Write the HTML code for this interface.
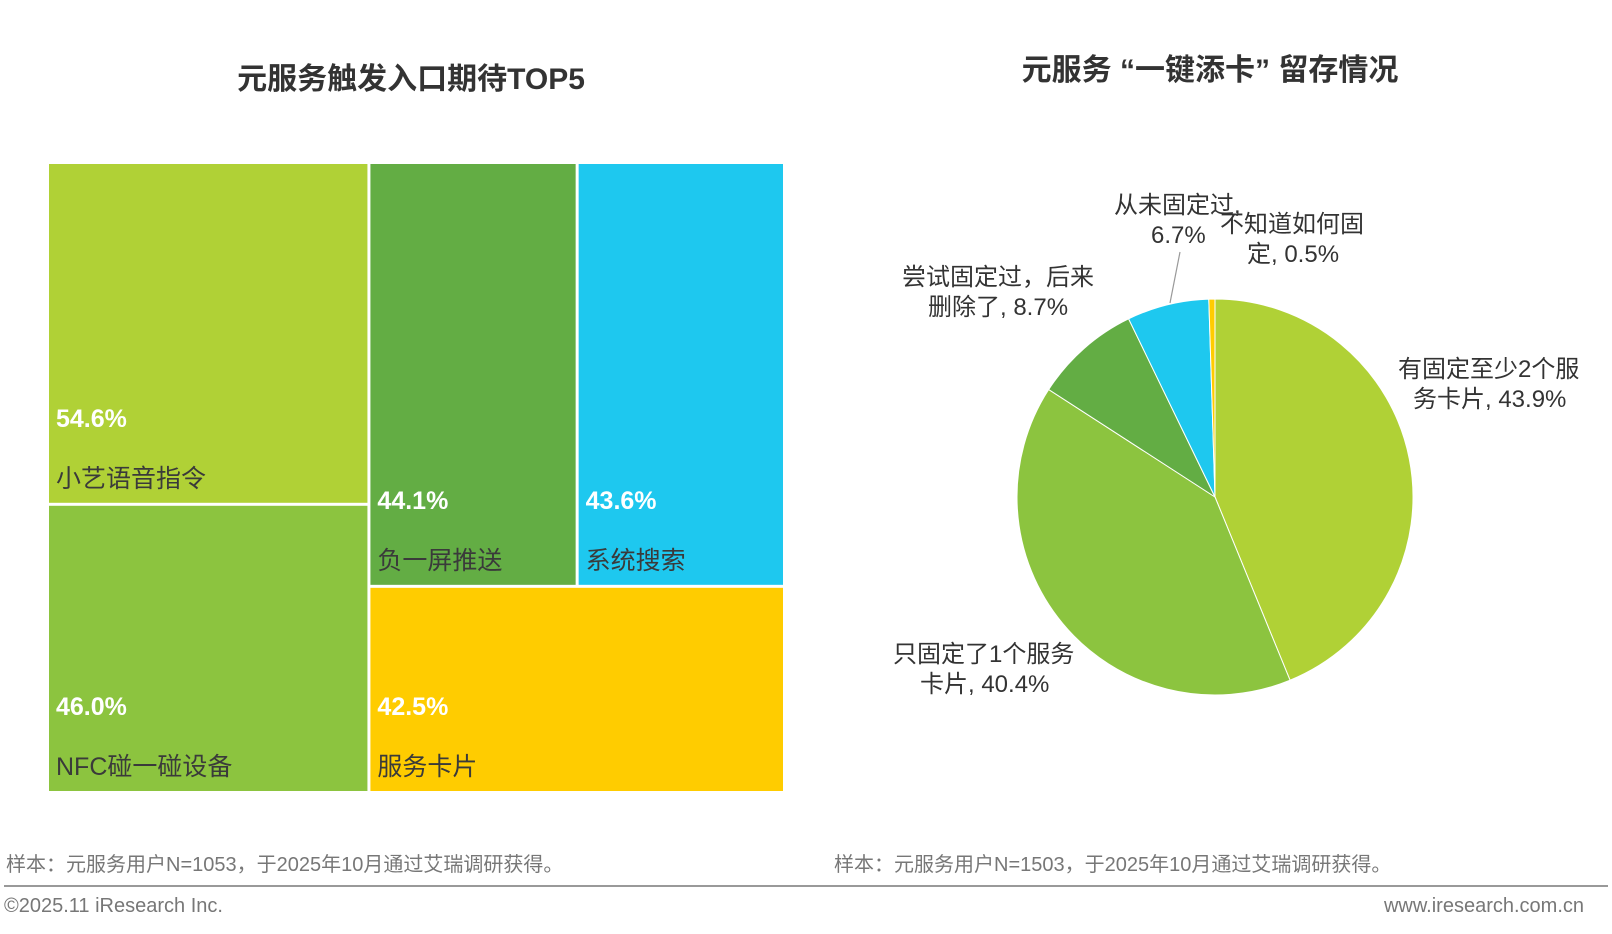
<!DOCTYPE html>
<html><head><meta charset="utf-8"><style>
body{margin:0;width:1612px;height:934px;background:#fff;overflow:hidden;font-family:"Liberation Sans","Noto Sans CJK SC",sans-serif}
svg{position:absolute;left:0;top:0}
</style></head><body>
<svg width="1612" height="934">
<text x="411" y="89" text-anchor="middle" font-size="30" font-weight="bold" fill="#333">元服务触发入口期待TOP5</text>
<text x="1210" y="80" text-anchor="middle" font-size="30" font-weight="bold" fill="#333">元服务 “一键添卡” 留存情况</text>
<g id="tm"></g>
<g id="pie"></g>
<g font-size="24" fill="#333">
<text x="1114" y="213">从未固定过,</text>
<text x="1151" y="243">6.7%</text>
<text x="1220" y="232">不知道如何固</text>
<text x="1247" y="262">定, 0.5%</text>
<text x="902" y="285">尝试固定过，后来</text>
<text x="928" y="315">删除了, 8.7%</text>
<text x="1398" y="377">有固定至少2个服</text>
<text x="1413" y="407">务卡片, 43.9%</text>
<text x="893" y="662">只固定了1个服务</text>
<text x="920" y="692">卡片, 40.4%</text>
</g>
<line x1="1180" y1="252" x2="1170" y2="303" stroke="#999" stroke-width="1.2"/>
<text x="6" y="871" font-size="20" fill="#777">样本：元服务用户N=1053，于2025年10月通过艾瑞调研获得。</text>
<text x="834" y="871" font-size="20" fill="#777">样本：元服务用户N=1503，于2025年10月通过艾瑞调研获得。</text>
<line x1="4" y1="886" x2="1608" y2="886" stroke="#999" stroke-width="2"/>
<text x="4" y="912" font-size="20" fill="#777">©2025.11 iResearch Inc.</text>
<text x="1584" y="912" text-anchor="end" font-size="20" fill="#777">www.iresearch.com.cn</text>
</svg>
<script>
const tmLabels=["小艺语音指令","NFC碰一碰设备","负一屏推送","系统搜索","服务卡片"];
const tmValues=[54.6,46.0,44.1,43.6,42.5];
const tmColors=["#b0d136","#8cc43f","#63ad44","#1ec8ef","#ffcc00"];
const pieLabels=["有固定至少2个服务卡片","只固定了1个服务卡片","尝试固定过，后来删除了","从未固定过","不知道如何固定"];
const pieValues=[43.9,40.4,8.7,6.7,0.5];
const pieColors=["#b0d136","#8cc43f","#63ad44","#1ec8ef","#ffcc00"];
const NS="http://www.w3.org/2000/svg";
function mk(t,a,p){const e=document.createElementNS(NS,t);for(const k in a)e.setAttribute(k,a[k]);p.appendChild(e);return e;}
const X0=49,Y0=164,W=734,H=627,G=3;
const tm=document.getElementById('tm');
const tot=tmValues.reduce((a,b)=>a+b,0);
const c1=tmValues[0]+tmValues[1];
const w1=W*c1/tot;
const rest=tot-c1;
const h0=H*tmValues[0]/c1;
const topRow=tmValues[2]+tmValues[3];
const hTop=H*topRow/rest;
const w2=(W-w1)*tmValues[2]/topRow;
const rects=[
 [X0,Y0,w1,h0],
 [X0,Y0+h0,w1,H-h0],
 [X0+w1,Y0,w2,hTop],
 [X0+w1+w2,Y0,W-w1-w2,hTop],
 [X0+w1,Y0+hTop,W-w1,H-hTop]];
rects.forEach((r,i)=>{
 const x=r[0]+(r[0]>X0?G/2:0), y=r[1]+(r[1]>Y0?G/2:0);
 const w=r[2]-(r[0]>X0?G/2:0)-(r[0]+r[2]<X0+W-1?G/2:0);
 const h=r[3]-(r[1]>Y0?G/2:0)-(r[1]+r[3]<Y0+H-1?G/2:0);
 const rc=mk('rect',{x:x,y:y,width:w,height:h,fill:tmColors[i]},tm);
 
 
 const by=y+h;
 const v=mk('text',{x:x+7,y:by-76,'font-size':25,'font-weight':'bold',fill:'#fff'},tm);
 v.textContent=tmValues[i].toFixed(1)+'%';
 
 
 const l=mk('text',{x:x+7,y:by-16,'font-size':25,fill:'#3a3a3a'},tm);
 l.textContent=tmLabels[i];
 
 
});
const pg=document.getElementById('pie');
const cx=1215,cy=497,R=198;
const ps=pieValues.reduce((a,b)=>a+b,0);
let a0=-Math.PI/2;
pieValues.forEach((v,i)=>{
 const a1=a0+v/ps*2*Math.PI;
 const x0=cx+R*Math.cos(a0),y0=cy+R*Math.sin(a0),x1=cx+R*Math.cos(a1),y1=cy+R*Math.sin(a1);
 const p=mk('path',{d:`M${cx},${cy}L${x0},${y0}A${R},${R} 0 ${a1-a0>Math.PI?1:0} 1 ${x1},${y1}Z`,fill:pieColors[i],stroke:'#fff','stroke-width':1},pg);
 
 
 a0=a1;
});
</script>
</body></html>
